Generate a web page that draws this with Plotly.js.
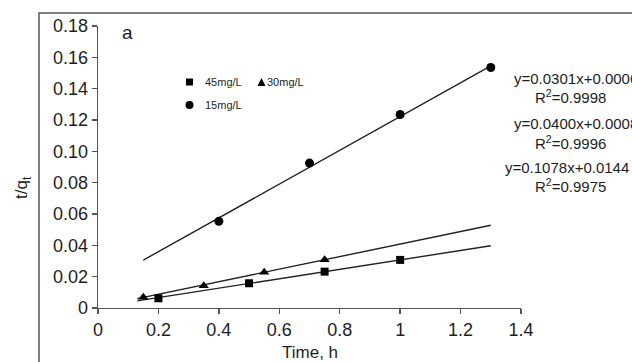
<!DOCTYPE html>
<html>
<head>
<meta charset="utf-8">
<script src="https://cdn.plot.ly/plotly-3.0.1.min.js"></script>
<style>html,body{margin:0;padding:0;background:#fff;}#chart{width:632px;height:362px;}</style>
</head>
<body>
<div id="chart"></div>
<script>
// Data
const seriesNames = ["45mg/L", "30mg/L", "15mg/L"];
const x45 = [0.2, 0.5, 0.75, 1.0];
const y45 = [0.0062, 0.0158, 0.0232, 0.0307];
const x30 = [0.15, 0.35, 0.55, 0.75];
const y30 = [0.0068, 0.0142, 0.0228, 0.0308];
const x15 = [0.4, 0.7, 1.0, 1.3];
const y15 = [0.0553, 0.0925, 0.1235, 0.1535];
// linear fits shown on the chart
const slopes = [0.0301, 0.0400, 0.1078];
const intercepts = [0.0006, 0.0008, 0.0144];
const r2 = ["0.9998", "0.9996", "0.9975"];
const fitStart = [0.13, 0.13, 0.15];
const fitEnd = [1.3, 1.3, 1.3];
const xTicks = [0, 0.2, 0.4, 0.6, 0.8, 1, 1.2, 1.4];
const xTickText = ["0", "0.2", "0.4", "0.6", "0.8", "1", "1.2", "1.4"];
const yTicks = [0, 0.02, 0.04, 0.06, 0.08, 0.10, 0.12, 0.14, 0.16, 0.18];
const yTickText = ["0", "0.02", "0.04", "0.06", "0.08", "0.10", "0.12", "0.14", "0.16", "0.18"];

const lineColor = "#222";
const fitTraces = slopes.map((m, i) => ({
  x: [fitStart[i], fitEnd[i]],
  y: [m * fitStart[i] + intercepts[i], m * fitEnd[i] + intercepts[i]],
  mode: "lines", line: {color: lineColor, width: 1.4},
  hoverinfo: "skip", showlegend: false
}));
const markerTraces = [
  {x: x45, y: y45, name: seriesNames[0], mode: "markers", marker: {symbol: "square", size: 8, color: "#000"}},
  {x: x30, y: y30, name: seriesNames[1], mode: "markers", marker: {symbol: "triangle-up", size: 9, color: "#000"}},
  {x: x15, y: y15, name: seriesNames[2], mode: "markers", marker: {symbol: "circle", size: 9, color: "#000"}}
].map(t => Object.assign(t, {showlegend: false, cliponaxis: false}));

// plot area geometry: l=98, r=111 -> width 423; t=26, b=54 -> height 282
const W = 423, H = 282, L = 98, T = 26;
const px = (p) => (p - L) / W;
const py = (p) => (T + H - p) / H;

const font = "Liberation Sans, Arial, sans-serif";
const txtColor = "#1e1e1e";
const eqText = slopes.map((m, i) => "y=" + m.toFixed(4) + "x+" + intercepts[i].toFixed(4));
const eqX = [576, 576, 567];
const eqY = [78, 123, 167];
const r2Y = [96, 142, 185];
const annotations = [];
eqText.forEach((t, i) => {
  annotations.push({xref: "paper", yref: "paper", x: px(eqX[i]), y: py(eqY[i]), text: t, showarrow: false,
    xanchor: "center", yanchor: "middle", font: {family: font, size: 15, color: txtColor}});
  annotations.push({xref: "paper", yref: "paper", x: px(570), y: py(r2Y[i]), text: "R<sup>2</sup>=" + r2[i], showarrow: false,
    xanchor: "center", yanchor: "middle", font: {family: font, size: 15, color: txtColor}});
});
annotations.push({xref: "paper", yref: "paper", x: px(120), y: py(33), text: "a", showarrow: false,
  xanchor: "left", yanchor: "middle", font: {family: font, size: 19, color: txtColor}});
annotations.push({xref: "paper", yref: "paper", x: px(203), y: py(82), text: seriesNames[0], showarrow: false,
  xanchor: "left", yanchor: "middle", font: {family: font, size: 11, color: txtColor}});
annotations.push({xref: "paper", yref: "paper", x: px(265), y: py(82), text: seriesNames[1], showarrow: false,
  xanchor: "left", yanchor: "middle", font: {family: font, size: 11, color: txtColor}});
annotations.push({xref: "paper", yref: "paper", x: px(203), y: py(105), text: seriesNames[2], showarrow: false,
  xanchor: "left", yanchor: "middle", font: {family: font, size: 11, color: txtColor}});
annotations.push({xref: "paper", yref: "paper", x: px(23), y: py(188), text: "t/q<sub>t</sub>", showarrow: false,
  textangle: -90, xanchor: "center", yanchor: "middle", font: {family: font, size: 17, color: txtColor}});
annotations.push({xref: "paper", yref: "paper", x: px(310), y: py(352), text: "Time, h", showarrow: false,
  xanchor: "center", yanchor: "middle", font: {family: font, size: 17, color: txtColor}});

const shapes = [
  // outer frame
  {type: "rect", xref: "paper", yref: "paper", x0: px(39), x1: px(700), y0: py(420), y1: py(13),
   line: {color: "#555", width: 1.5}, fillcolor: "rgba(0,0,0,0)", layer: "below"},
  // legend markers
  {type: "rect", xref: "paper", yref: "paper", x0: px(186), x1: px(193), y0: py(85.5), y1: py(78.5),
   line: {width: 0}, fillcolor: "#000"},
  {type: "path", xref: "paper", yref: "paper",
   path: "M " + px(257.5) + " " + py(86) + " L " + px(265.5) + " " + py(86) + " L " + px(261.5) + " " + py(78) + " Z",
   line: {width: 0}, fillcolor: "#000"},
  {type: "circle", xref: "paper", yref: "paper", x0: px(185.5), x1: px(193.5), y0: py(109), y1: py(101),
   line: {width: 0}, fillcolor: "#000"}
];

const layout = {
  width: 632, height: 362,
  margin: {l: L, r: 632 - L - W, t: T, b: 362 - T - H, pad: 0},
  paper_bgcolor: "#fff", plot_bgcolor: "#fff",
  showlegend: false,
  font: {family: font, color: txtColor},
  xaxis: {range: [0, 1.4], showgrid: false, zeroline: false, showline: true, linecolor: "#555", linewidth: 1.3,
    ticks: "outside", ticklen: 5, tickcolor: "#555", tickwidth: 1.3, tickvals: xTicks, ticktext: xTickText,
    tickfont: {family: font, size: 18, color: txtColor}, fixedrange: true},
  yaxis: {range: [0, 0.18], showgrid: false, zeroline: false, showline: true, linecolor: "#555", linewidth: 1.3,
    ticks: "outside", ticklen: 5, tickcolor: "#555", tickwidth: 1.3, tickvals: yTicks, ticktext: yTickText,
    tickfont: {family: font, size: 18, color: txtColor}, fixedrange: true},
  annotations: annotations,
  shapes: shapes
};

Plotly.newPlot("chart", fitTraces.concat(markerTraces), layout, {displayModeBar: false, staticPlot: true});
</script>
</body>
</html>
